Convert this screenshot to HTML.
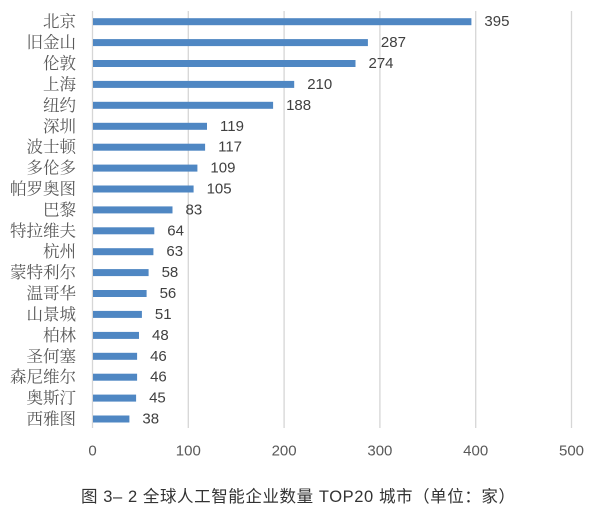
<!DOCTYPE html>
<html>
<head>
<meta charset="utf-8">
<style>
  html,body{margin:0;padding:0;background:#fff;}
  svg{display:block;}
</style>
</head>
<body>
<svg width="600" height="513" viewBox="0 0 600 513" xmlns="http://www.w3.org/2000/svg">
  <rect width="600" height="513" fill="#fff"/>
  <!-- gridlines -->
  <g stroke="#d6d6d6" stroke-width="1.3">
    <line x1="92.5" y1="11" x2="92.5" y2="428"/>
    <line x1="188.3" y1="11" x2="188.3" y2="428"/>
    <line x1="284.1" y1="11" x2="284.1" y2="428"/>
    <line x1="379.9" y1="11" x2="379.9" y2="428"/>
    <line x1="475.7" y1="11" x2="475.7" y2="428"/>
    <line x1="571.5" y1="11" x2="571.5" y2="428"/>
  </g>
  <!-- bars -->
  <g fill="#4f87c3">
    <rect x="93" y="18.2" width="378.4" height="7"/>
    <rect x="93" y="39.1" width="274.9" height="7"/>
    <rect x="93" y="60.0" width="262.5" height="7"/>
    <rect x="93" y="80.9" width="201.2" height="7"/>
    <rect x="93" y="101.8" width="180.1" height="7"/>
    <rect x="93" y="122.8" width="114.0" height="7"/>
    <rect x="93" y="143.7" width="112.1" height="7"/>
    <rect x="93" y="164.6" width="104.4" height="7"/>
    <rect x="93" y="185.5" width="100.6" height="7"/>
    <rect x="93" y="206.4" width="79.5" height="7"/>
    <rect x="93" y="227.3" width="61.3" height="7"/>
    <rect x="93" y="248.2" width="60.4" height="7"/>
    <rect x="93" y="269.1" width="55.6" height="7"/>
    <rect x="93" y="290.0" width="53.6" height="7"/>
    <rect x="93" y="310.9" width="48.9" height="7"/>
    <rect x="93" y="331.9" width="46.0" height="7"/>
    <rect x="93" y="352.8" width="44.1" height="7"/>
    <rect x="93" y="373.7" width="44.1" height="7"/>
    <rect x="93" y="394.6" width="43.1" height="7"/>
    <rect x="93" y="415.5" width="36.4" height="7"/>
  </g>
  <!-- category labels -->
  <g font-family="'Liberation Serif','Noto Serif CJK SC',serif" font-size="16.5" fill="#595959" text-anchor="end" dominant-baseline="central">
    <text x="76" y="21.7">北京</text>
    <text x="76" y="42.6">旧金山</text>
    <text x="76" y="63.5">伦敦</text>
    <text x="76" y="84.4">上海</text>
    <text x="76" y="105.3">纽约</text>
    <text x="76" y="126.3">深圳</text>
    <text x="76" y="147.2">波士顿</text>
    <text x="76" y="168.1">多伦多</text>
    <text x="76" y="189.0">帕罗奥图</text>
    <text x="76" y="209.9">巴黎</text>
    <text x="76" y="230.8">特拉维夫</text>
    <text x="76" y="251.7">杭州</text>
    <text x="76" y="272.6">蒙特利尔</text>
    <text x="76" y="293.5">温哥华</text>
    <text x="76" y="314.4">山景城</text>
    <text x="76" y="335.4">柏林</text>
    <text x="76" y="356.3">圣何塞</text>
    <text x="76" y="377.2">森尼维尔</text>
    <text x="76" y="398.1">奥斯汀</text>
    <text x="76" y="419.0">西雅图</text>
  </g>
  <!-- value labels -->
  <g font-family="'Liberation Sans',sans-serif" font-size="15" fill="#404040" dominant-baseline="central">
    <text x="484.4" y="21.7">395</text>
    <text x="380.9" y="42.6">287</text>
    <text x="368.5" y="63.5">274</text>
    <text x="307.2" y="84.4">210</text>
    <text x="286.1" y="105.3">188</text>
    <text x="220.0" y="126.3">119</text>
    <text x="218.1" y="147.2">117</text>
    <text x="210.4" y="168.1">109</text>
    <text x="206.6" y="189.0">105</text>
    <text x="185.5" y="209.9">83</text>
    <text x="167.3" y="230.8">64</text>
    <text x="166.4" y="251.7">63</text>
    <text x="161.6" y="272.6">58</text>
    <text x="159.6" y="293.5">56</text>
    <text x="154.9" y="314.4">51</text>
    <text x="152.0" y="335.4">48</text>
    <text x="150.1" y="356.3">46</text>
    <text x="150.1" y="377.2">46</text>
    <text x="149.1" y="398.1">45</text>
    <text x="142.4" y="419.0">38</text>
  </g>
  <!-- tick labels -->
  <g font-family="'Liberation Sans',sans-serif" font-size="15" fill="#595959" text-anchor="middle" dominant-baseline="central">
    <text x="92.5" y="451">0</text>
    <text x="188.3" y="451">100</text>
    <text x="284.1" y="451">200</text>
    <text x="379.9" y="451">300</text>
    <text x="475.7" y="451">400</text>
    <text x="571.5" y="451">500</text>
  </g>
  <!-- caption -->
  <text x="81" y="497" font-family="'Liberation Sans','Noto Sans CJK SC',sans-serif" font-size="16.5" fill="#333" dominant-baseline="central" textLength="434" lengthAdjust="spacing">图 3– 2  全球人工智能企业数量 TOP20 城市（单位：家）</text>
</svg>
</body>
</html>
